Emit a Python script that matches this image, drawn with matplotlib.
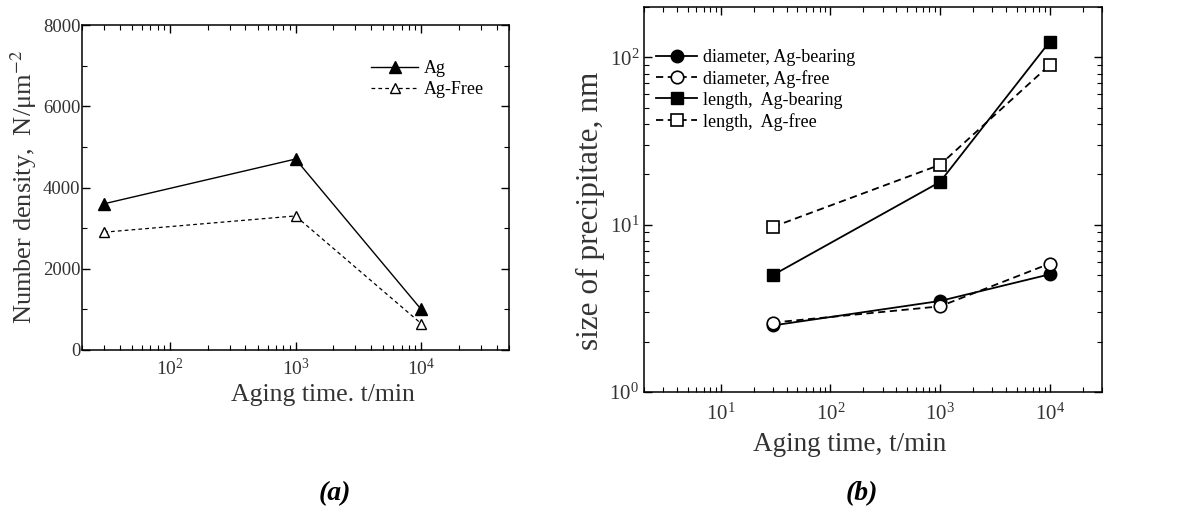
import matplotlib
matplotlib.use('agg')
import matplotlib.pyplot as plt
import matplotlib.ticker as ticker
import numpy as np

plt.rcParams['font.family'] = ['Liberation Serif', 'DejaVu Serif']
plt.rcParams['mathtext.fontset'] = 'stix'

# aging time, minutes
t = [30, 1000, 10000]

# (a) number density, N/um^-2
dens_ag = [3600, 4700, 1000]
dens_free = [2900, 3300, 650]

# (b) size of precipitate, nm
diam_ag = [2.5, 3.5, 5.05]
diam_free = [2.6, 3.25, 5.85]
len_ag = [5.0, 18.0, 124.0]
len_free = [9.7, 22.8, 90.0]

txt = '#333333'

fig = plt.figure(figsize=(11.92, 5.13), dpi=100)
ax1 = fig.add_axes([82/1192, 1 - 350/513, 427/1192, 325/513])
ax2 = fig.add_axes([644/1192, 1 - 392/513, 458/1192, 385/513])

def style(ax):
    ax.tick_params(which='both', direction='in', top=True, right=True, colors='k',
                   labelcolor=txt)
    ax.tick_params(which='major', length=6, width=1)
    ax.tick_params(which='minor', length=3.5, width=0.8)
    for sp in ax.spines.values():
        sp.set_linewidth(1.1)

# panel (a)
ax1.plot(t, dens_ag, color='k', lw=1, marker='^', ms=8, mfc='k', label='Ag')
ax1.plot(t, dens_free, color='k', lw=0.9, ls=(0, (3, 2.5)), marker='^', ms=7,
         mfc='white', label='Ag-Free')
ax1.set_xscale('log')
ax1.set_xlim(20, 5e4)
ax1.set_ylim(0, 8000)
ax1.yaxis.set_major_locator(ticker.MultipleLocator(2000))
ax1.yaxis.set_minor_locator(ticker.MultipleLocator(1000))
ax1.xaxis.set_major_locator(ticker.FixedLocator([100, 1000, 10000]))
style(ax1)
ax1.tick_params(axis='y', labelsize=13.5, pad=1)
ax1.tick_params(axis='x', labelsize=14, pad=6)
ax1.set_xlabel('Aging time. t/min', fontsize=18.5, color=txt, labelpad=0)
ax1.xaxis.set_label_coords(0.565, -0.105)
ax1.set_ylabel('Number density,  N/μm$^{-2}$', fontsize=19, color=txt)
ax1.yaxis.set_label_coords(-0.10, 0.50)
ax1.legend(loc='upper left', bbox_to_anchor=(0.66, 0.915), frameon=False, fontsize=13,
           handlelength=2.6, labelspacing=0.25, handletextpad=0.3, borderaxespad=0)

# panel (b)
ax2.plot(t, diam_ag, color='k', lw=1.3, marker='o', ms=9, mfc='k',
         label='diameter, Ag-bearing')
ax2.plot(t, diam_free, color='k', lw=1.3, ls=(0, (4, 2.5)), marker='o', ms=9,
         mfc='white', mew=1.2, label='diameter, Ag-free')
ax2.plot(t, len_ag, color='k', lw=1.3, marker='s', ms=9, mfc='k',
         label='length,  Ag-bearing')
ax2.plot(t, len_free, color='k', lw=1.3, ls=(0, (4, 2.5)), marker='s', ms=9,
         mfc='white', mew=1.2, label='length,  Ag-free')
ax2.set_xscale('log')
ax2.set_yscale('log')
ax2.set_xlim(2, 3e4)
ax2.set_ylim(1, 200)
ax2.xaxis.set_major_locator(ticker.FixedLocator([10, 100, 1000, 10000]))
ax2.yaxis.set_major_locator(ticker.FixedLocator([1, 10, 100]))
ax2.yaxis.set_minor_locator(ticker.LogLocator(subs=np.arange(2, 10)))
style(ax2)
ax2.tick_params(labelsize=15)
ax2.tick_params(axis='x', pad=8)
ax2.set_xlabel('Aging time, t/min', fontsize=19.5, color=txt)
ax2.xaxis.set_label_coords(0.45, -0.105)
ax2.set_ylabel('size of precipitate, nm', fontsize=22.5, color=txt)
ax2.yaxis.set_label_coords(-0.085, 0.47)
ax2.legend(loc='upper left', bbox_to_anchor=(0.01, 0.91), frameon=False, fontsize=13,
           handlelength=2.3, labelspacing=0.22, handletextpad=0.3, borderaxespad=0)

fig.text(335/1192, 1 - 494/513, '(a)', fontsize=20, fontweight='bold', style='italic',
         ha='center', va='center', color='k')
fig.text(862/1192, 1 - 494/513, '(b)', fontsize=20, fontweight='bold', style='italic',
         ha='center', va='center', color='k')

fig.savefig('out.png', dpi=100)
